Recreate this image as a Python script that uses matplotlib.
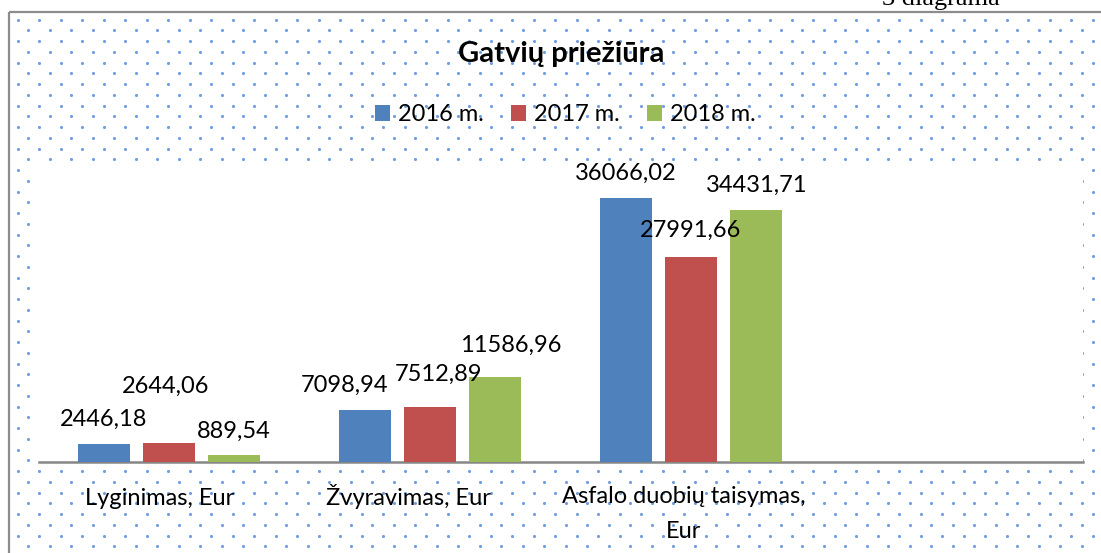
import matplotlib
matplotlib.use('Agg')
import matplotlib.pyplot as plt
from matplotlib.patches import Rectangle
import numpy as np

plt.rcParams['font.family'] = ['Lato', 'DejaVu Sans']

# data
categories = ['Lyginimas, Eur', 'Žvyravimas, Eur', 'Asfalo duobių taisymas,\nEur', '']
years = ['2016 m.', '2017 m.', '2018 m.']
v2016 = [2446.18, 7098.94, 36066.02]
v2017 = [2644.06, 7512.89, 27991.66]
v2018 = [889.54, 11586.96, 34431.71]
series = [v2016, v2017, v2018]
colors = ['#4F81BD', '#C0504D', '#9BBB59']

# label nudges in pixels (dx, dy) per series, Excel put some of them off-centre
lab_nudge = [
    [(0, 0), (-20, 0), (0, 0)],
    [(-3, 32), (9, 8), (0, 2)],
    [(0, 0), (16, 7), (0, 0)],
]
cat_nudge = [-9.5, -22, -7, 0]

W, H = 1101, 553
fig = plt.figure(figsize=(W / 100, H / 100), dpi=100)

# background with dotted pattern and frame (pixel coords)
bg = fig.add_axes([0, 0, 1, 1])
bg.set_xlim(0, W)
bg.set_ylim(H, 0)
bg.axis('off')
rows = np.arange(19.7, H, 10.75)
xs, ys = [], []
for k, yy in enumerate(rows):
    start = 17.7 if k % 2 == 0 else 28.45
    for xx in np.arange(start, W, 21.5):
        xs.append(xx)
        ys.append(yy)
bg.scatter(xs, ys, s=5, color='#6f9ddf', linewidths=0, zorder=1)
bg.add_patch(Rectangle((34, 167), 1083 - 34, 462 - 167, facecolor='white', edgecolor='none', zorder=2))
bg.plot([9, W], [12, 12], color='#8c8c8c', lw=1.6, zorder=3, solid_capstyle='butt')
bg.plot([9, 9], [12, H], color='#8c8c8c', lw=1.6, zorder=3, solid_capstyle='butt')
bg.text(941, 5.5, '3 diagrama', family='Liberation Serif', fontsize=19,
        ha='center', va='baseline', zorder=4)

# main chart
ax = fig.add_axes([38.5 / W, (H - 462) / H, 1044 / W, (462 - 169) / H])
ax.patch.set_alpha(0)
x = np.arange(len(categories))
bw = 0.2
step = 0.25
n = len(v2016)
bars = []
for i, (vals, c, yr) in enumerate(zip(series, colors, years)):
    pos = x[:n] + (i - 1) * step
    b = ax.bar(pos, vals, width=bw, color=c, label=yr, zorder=3)
    bars.append(b)
    for j, (p, v) in enumerate(zip(pos, vals)):
        dx, dy = lab_nudge[i][j]
        ax.annotate(('%.2f' % v).replace('.', ','), xy=(p, v), xycoords='data',
                    xytext=(dx * 0.72, (18 + dy) * 0.72), textcoords='offset points',
                    ha='center', va='baseline', fontsize=17, color='black', zorder=6)

ax.set_xlim(-0.5, len(categories) - 0.5)
ax.set_ylim(0, 40000)
for s in ['top', 'right', 'left']:
    ax.spines[s].set_visible(False)
ax.spines['bottom'].set_color('#868686')
ax.spines['bottom'].set_linewidth(1.8)
ax.set_yticks([])
ax.set_xticks([])

# baseline of multi-line text is the last line, so push those down by a line
for k, lab in enumerate(categories):
    extra = 33 * lab.count('\n')
    ax.annotate(lab, xy=(x[k], 0), xycoords='data',
                xytext=(cat_nudge[k] * 0.72, (-43 - extra) * 0.72), textcoords='offset points',
                ha='center', va='baseline', fontsize=17, linespacing=1.85, color='black')

fig.text(561 / W, 1 - 62 / H, 'Gatvių priežiūra', ha='center', va='baseline',
         fontsize=21, fontweight='bold')

fig.legend(handles=bars, labels=years, loc='center', bbox_to_anchor=(565.5 / W, 1 - 114.5 / H),
           ncol=3, frameon=False, fontsize=17, handlelength=0.64, handleheight=0.64,
           handletextpad=0.34, columnspacing=1.14)

fig.savefig('out.png', dpi=100)
